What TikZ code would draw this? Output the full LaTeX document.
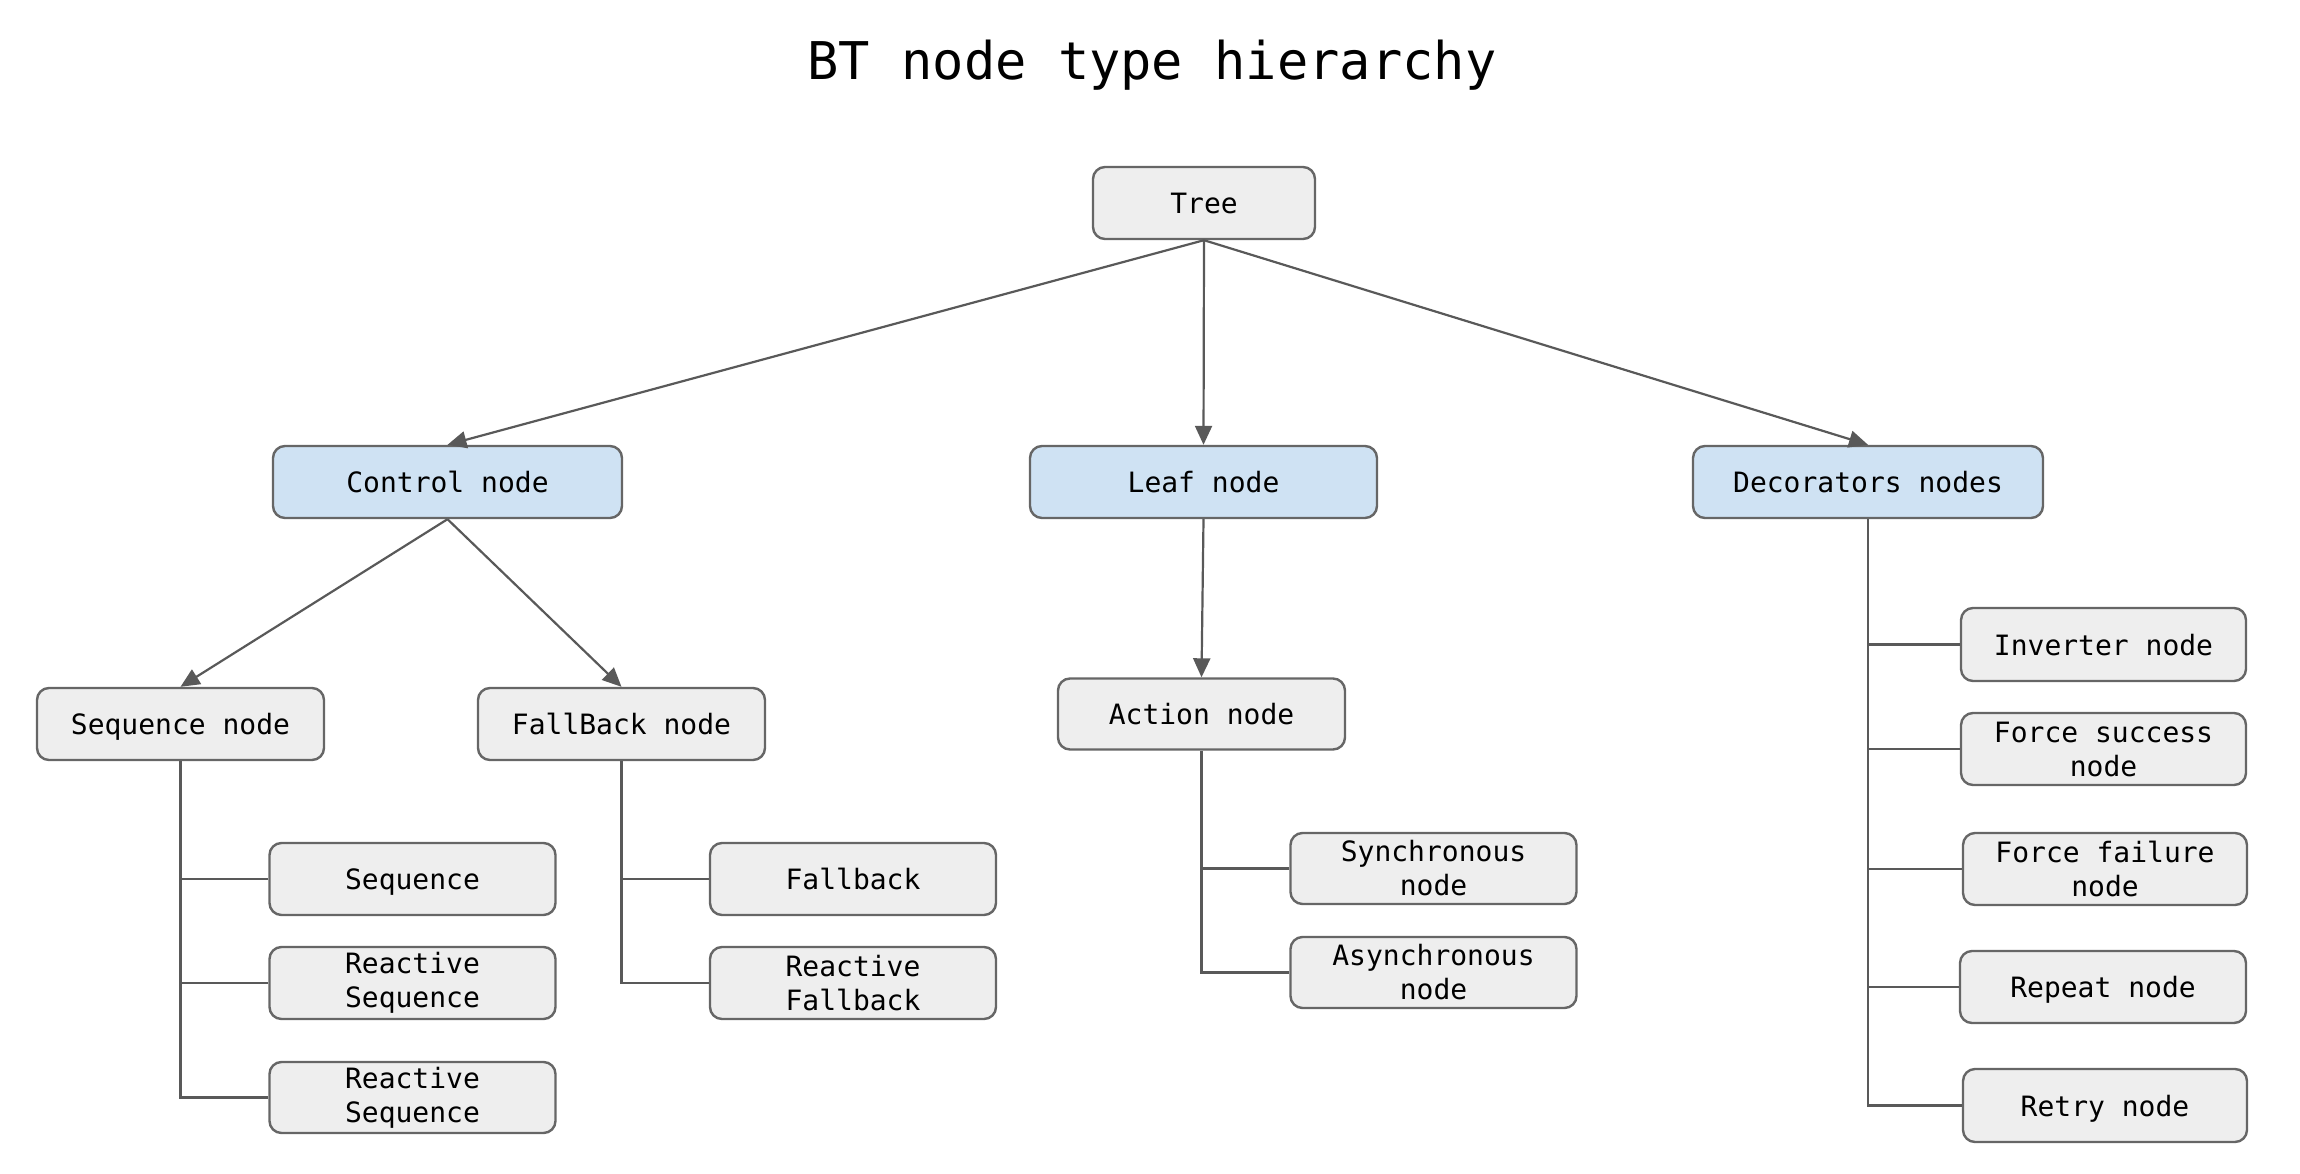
\documentclass[tikz,border=0pt]{standalone}
\usepackage{fontspec}
\setmonofont{DejaVu Sans Mono}
\usetikzlibrary{arrows.meta}
\definecolor{boxgray}{HTML}{EEEEEE}
\definecolor{boxblue}{HTML}{CFE2F3}
\definecolor{edgegray}{HTML}{666666}
\definecolor{linegray}{HTML}{595959}
\tikzset{
  bt/.style={draw=edgegray, line width=2.4pt, rounded corners=12pt, fill=boxgray,
    minimum width=286pt, minimum height=72pt, inner sep=0pt, align=center,
    font=\ttfamily\fontsize{28}{34}\selectfont, text=black},
  one/.style={text height=21pt, text depth=0pt},
  btblue/.style={bt, fill=boxblue},
  arr/.style={draw=linegray, line width=2.2pt, -{Triangle[length=19pt,width=17pt]}},
  lnk/.style={draw=linegray, line width=2.4pt},
}
\begin{document}
\begin{tikzpicture}[x=1pt,y=-1pt]
\useasboundingbox (0,0) rectangle (2300,1173);
\node[font=\ttfamily\fontsize{52}{56}\selectfont, text height=38pt, text depth=0pt] (title) at (1152,60.5) {BT node type hierarchy};

\node[bt, one, minimum width=222pt] (tree) at (1204,203) {Tree};
\node[btblue, one, minimum width=349pt] (control) at (447.5,482) {Control node};
\node[btblue, one, minimum width=347pt] (leaf) at (1203.5,482) {Leaf node};
\node[btblue, one, minimum width=350pt] (deco) at (1868,482) {Decorators nodes};

\node[bt, one, minimum width=287pt] (seqnode) at (180.5,724) {Sequence node};
\node[bt, one, minimum width=287pt] (fbnode) at (621.5,724) {FallBack node};
\node[bt, one, minimum width=287pt, minimum height=71pt] (action) at (1201.5,714) {Action node};

\node[bt, one] (seq1) at (412.5,879) {Sequence};
\node[bt] (rseq1) at (412.5,983) {Reactive\\Sequence};
\node[bt, minimum height=71pt] (rseq2) at (412.5,1097.5) {Reactive\\Sequence};

\node[bt, one] (fb1) at (853,879) {Fallback};
\node[bt] (fb2) at (853,983) {Reactive\\Fallback};

\node[bt, minimum height=71pt] (sync) at (1433.5,868.5) {Synchronous\\node};
\node[bt, minimum height=71pt] (async) at (1433.5,972.5) {Asynchronous\\node};

\node[bt, one, minimum width=285pt, minimum height=73pt] (inv) at (2103.5,644.5) {Inverter node};
\node[bt, minimum width=285pt] (fsucc) at (2103.5,749) {Force success\\node};
\node[bt, minimum width=284pt] (ffail) at (2105,869) {Force failure\\node};
\node[bt, one, minimum width=286pt] (repeat) at (2103,987) {Repeat node};
\node[bt, one, minimum width=284pt, minimum height=73pt] (retry) at (2105,1105.5) {Retry node};

% arrows
\draw[arr] (tree.south) -- (control.north);
\draw[arr] (tree.south) -- (leaf.north);
\draw[arr] (tree.south) -- (deco.north);
\draw[arr] (control.south) -- (seqnode.north);
\draw[arr] (control.south) -- (fbnode.north);
\draw[arr] (leaf.south) -- (action.north);

% brackets
\draw[lnk] (seqnode.south) -- (seqnode.south |- rseq2.west) -- (rseq2.west);
\draw[lnk] (seqnode.south |- seq1.west) -- (seq1.west);
\draw[lnk] (seqnode.south |- rseq1.west) -- (rseq1.west);

\draw[lnk] (fbnode.south) |- (fb2.west);
\draw[lnk] (fbnode.south |- fb1.west) -- (fb1.west);

\draw[lnk] (action.south) |- (async.west);
\draw[lnk] (action.south |- sync.west) -- (sync.west);

\draw[lnk] (deco.south) -- (deco.south |- retry.west) -- (retry.west);
\draw[lnk] (deco.south |- inv.west) -- (inv.west);
\draw[lnk] (deco.south |- fsucc.west) -- (fsucc.west);
\draw[lnk] (deco.south |- ffail.west) -- (ffail.west);
\draw[lnk] (deco.south |- repeat.west) -- (repeat.west);
\end{tikzpicture}
\end{document}
